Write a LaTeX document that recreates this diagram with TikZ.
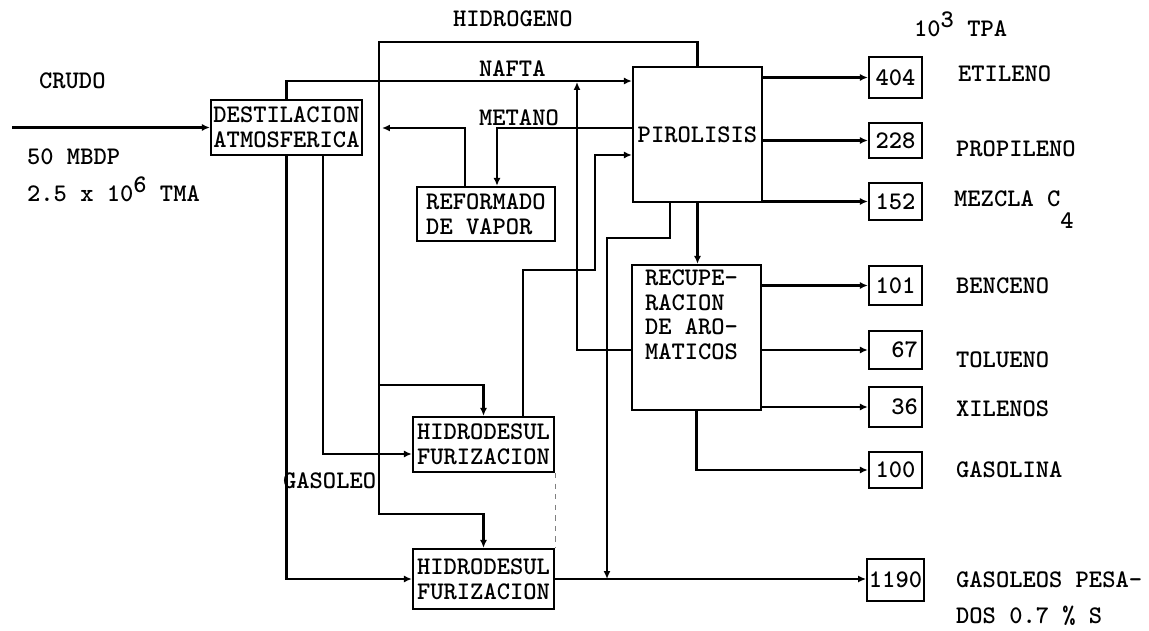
\documentclass[tikz,border=0pt]{standalone}
\usepackage{tikz}
\usetikzlibrary{arrows.meta}

\begin{document}
\begin{tikzpicture}[
    x=0.02cm, y=-0.02cm,
    font=\ttfamily\bfseries\fontsize{14.4}{14}\selectfont,
    line width=1.3pt,
    unitbox/.style={draw, align=left, inner sep=1pt},
    prodbox/.style={draw, minimum width=1.06cm, inner sep=1pt},
    lbl/.style={anchor=base west, inner sep=0pt},
    ar/.style={-{Latex[length=4.5pt,width=4pt]}},
  ]
    \useasboundingbox (0,0) rectangle (1149,631);
    % Process units
    \node[unitbox, minimum width=3.02cm, minimum height=1.1cm] (dest) at (286.5,127.5) {DESTILACION\\ATMOSFERICA};
    \node[unitbox, minimum width=2.58cm, minimum height=2.7cm] (piro) at (697.5,134.5) {PIROLISIS};
    \node[unitbox, minimum width=2.76cm, minimum height=1.08cm] (refo) at (486,214) {REFORMADO\\DE VAPOR};
    \node[unitbox, minimum width=2.58cm, minimum height=2.9cm,
      label={[anchor=north west, align=left, inner sep=0pt, xshift=0.26cm, yshift=-0.1cm]north west:RECUPE-\\RACION\\DE ARO-\\MATICOS}]
      (recu) at (696.5,337.5) {};
    \node[unitbox, minimum width=2.82cm, minimum height=1.1cm] (hds1) at (483.5,444.5) {HIDRODESUL\\FURIZACION};
    \node[unitbox, minimum width=2.82cm, minimum height=1.2cm] (hds2) at (483.5,579) {HIDRODESUL\\FURIZACION};
    % Product boxes (10^3 TPA)
    \node[prodbox, minimum height=0.82cm] (p404)  at (895.5,77.5)  {404};
    \node[prodbox, minimum height=0.70cm] (p228)  at (895.5,140.5) {228};
    \node[prodbox, minimum height=0.74cm] (p152)  at (895.5,201.5) {152};
    \node[prodbox, minimum height=0.78cm] (p101)  at (895.5,285.5) {101};
    \node[prodbox, minimum height=0.76cm, text width=0.9cm, align=right] (p67) at (895.5,350) {67};
    \node[prodbox, minimum height=0.80cm, text width=0.9cm, align=right] (p36) at (895.5,407) {36};
    \node[prodbox, minimum height=0.72cm] (p100)  at (895.5,470)   {100};
    \node[prodbox, minimum height=0.84cm] (p1190) at (895.5,580)   {1190};
    % Free ends and junctions
    \coordinate (crude)   at (12,127.5);
    \coordinate (hcorner) at (379,42);
    \coordinate (h2in)    at (382,128);
    \coordinate (najoin)  at (577,82);
    \coordinate (hvjoin)  at (607,579);
    % Feed, nafta and hidrogeno
    \draw[ar] (crude) -- (dest.west);
    \draw[ar] (dest.north) |- ([yshift=1.07cm]piro.west);
    \draw[ar] (piro.north) |- (hcorner) -- ++(0,472) -| (hds2.north);
    \draw[ar] (hcorner) ++(0,343) -| (hds1.north);
    % Metano loop through reformado
    \draw[ar] ([yshift=0.13cm]piro.west) -| ([xshift=0.22cm]refo.north);
    \draw[ar] ([xshift=-0.42cm]refo.north) |- (h2in);
    % Recuperacion de aromaticos
    \draw[ar] (piro.south) -- (piro.south |- recu.north);
    \draw[ar] ([yshift=-0.25cm]recu.west) -| (najoin);
    % Hidrodesulfurizacion
    \draw[ar] ([xshift=0.79cm]hds1.north) -- ++(0,-146) -- ++(72,0) |- ([yshift=-0.41cm]piro.west);
    \draw[ar] ([xshift=-0.55cm]piro.south) -- ++(0,35) -| (hvjoin);
    \draw[ar] ([xshift=0.73cm]dest.south) |- ([yshift=-0.19cm]hds1.west);
    \draw[ar] (dest.south) |- (hds2.west);
    \draw[ar] (hds2.east) -- (hds2.east -| p1190.west);
    \draw[dashed, line width=0.4pt, gray] (hds1.south east) -- (hds2.north east);
    % Products
    \draw[ar] (piro.east |- p404) -- (p404.west);
    \draw[ar] (piro.east |- p228) -- (p228.west);
    \draw[ar] (piro.east |- p152) -- (p152.west);
    \draw[ar] (recu.east |- p101) -- (p101.west);
    \draw[ar] (recu.east |- p67)  -- (p67.west);
    \draw[ar] (recu.east |- p36)  -- (p36.west);
    \draw[ar] (recu.south) |- (p100.west);
    % Stream labels
    \node[lbl] (crudo)   at (38,89)   {CRUDO};
    \node[lbl] (mbdp)    at (26,165)  {50 MBDP};
    \node[lbl] (tma)     at (26,202)  {2.5 x 10\raisebox{0.9ex}{6} TMA};
    \node[lbl] (hidro)   at (452,27)  {HIDROGENO};
    \node[lbl] (nafta)   at (478,77)  {NAFTA};
    \node[lbl] (metano)  at (478,126) {METANO};
    \node[lbl] (gasoleo) at (282,488) {GASOLEO};
    \node[lbl] (tpa)     at (913,37)  {10\raisebox{0.9ex}{3} TPA};
    \node[lbl] (etileno) at (957,82)  {ETILENO};
    \node[lbl] (propil)  at (955,157) {PROPILENO};
    \node[lbl] (mezcla)  at (953,207) {MEZCLA C\raisebox{-2ex}{4}};
    \node[lbl] (benceno) at (955,294) {BENCENO};
    \node[lbl] (tolueno) at (955,368) {TOLUENO};
    \node[lbl] (xileno)  at (955,417) {XILENOS};
    \node[lbl] (gasol)   at (955,477) {GASOLINA};
    \node[lbl] (pesados) at (955,587) {GASOLEOS PESA-};
    \node[lbl] (dos)     at (955,623) {DOS 0.7 \% S};
  \end{tikzpicture}
\end{document}
